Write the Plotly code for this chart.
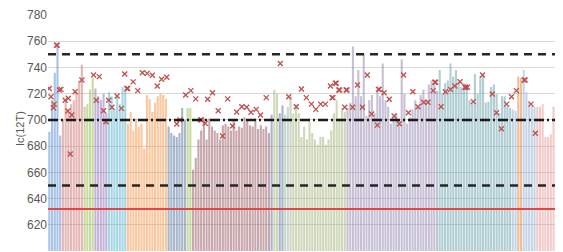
import plotly.graph_objects as go

# ---------------- data ----------------
blue1 = [691, 715, 736, 757, 688]
pink1 = [700, 715, 708, 712, 715, 721, 730, 742]
green1 = [710, 712, 723, 732]
purple1 = [724, 718, 715, 720, 705]
cyan1 = [721, 718, 708, 718, 712, 725, 722]
orange1 = [697, 706, 692, 701, 695, 697, 678, 719, 716, 706, 713, 718, 720, 719, 716]
graybl1 = [695, 690, 688, 687, 690, 709, 700]
green2 = [709, 709]
mauve1 = [662, 671, 685, 692, 701, 685, 701, 695, 692, 690,
          685, 696, 697, 695, 692, 700, 692, 695, 694, 702,
          700, 696, 695, 701, 693, 696, 693, 695, 690]
graybl2 = [704]
olive0 = [723, 720]
graybl3 = [705, 711]
olive00 = [704]
ltblue0 = [710]
olive1 = [718, 705, 712, 705, 687, 695, 685, 699, 690, 685, 681,
          687, 687, 681, 685, 692, 705, 715, 701, 709, 706]
lav1 = [709, 713, 756, 718, 738, 718, 750, 703, 715, 719,
        705, 723, 718, 743, 715, 710, 697, 702, 705, 700,
        746, 720, 697, 702, 708, 715, 710, 719, 723, 715,
        727, 730, 727, 722]
teal1 = [738, 720, 728, 730, 743, 733, 738, 729, 725, 728,
         724, 715, 714, 735, 720, 733, 734, 713, 714, 725,
         727, 720, 705, 718, 718, 711, 709]
ltblue1 = [708, 707]
orange2 = [733, 732]
ltblue2 = [738, 721, 714, 711, 710]
pink2 = [710, 710, 712, 687, 687, 689, 710, 689, 681, 688]

segments = [
    ("blue", blue1), ("pink", pink1), ("green", green1), ("purple", purple1),
    ("cyan", cyan1), ("orange", orange1), ("graybl", graybl1), ("green", green2),
    ("mauve", mauve1), ("graybl", graybl2), ("olive", olive0), ("graybl", graybl3),
    ("olive", olive00), ("ltblue", ltblue0), ("olive", olive1), ("lav", lav1),
    ("teal", teal1), ("ltblue", ltblue1), ("orange2", orange2), ("ltblue", ltblue2),
    ("pink2", pink2),
]

# measured points (sample position, Ic)
mark_pos = [0.0, 0.6, 1.5, 1.8, 2.6, 2.9, 3.7, 4.3, 5.8, 6.8, 7.0, 7.7, 8.3, 9.5, 12.0,
            16.3, 17.3, 18.4, 20.0, 20.9, 21.9, 23.1, 25.0, 26.6, 27.8, 28.6, 28.9,
            30.9, 32.6, 34.3, 36.1, 38.0, 39.8, 41.4, 43.3, 47.0, 48.2, 50.3, 52.2,
            54.0, 55.8, 56.1, 57.5, 58.4, 60.2, 62.3, 63.9, 65.8, 67.6, 69.1, 71.0,
            72.8, 74.4, 76.3, 77.9, 80.0, 85.2, 88.3, 91.1, 93.0, 94.8, 96.7, 98.3,
            100.1, 101.8, 103.7, 104.3, 104.6, 105.5, 105.8, 106.8, 107.1, 109.0,
            109.5, 109.8, 111.9, 113.7, 115.5, 117.3, 118.9, 121.0, 121.4, 121.7,
            123.5, 125.4, 127.2, 129.1, 130.7, 132.5, 134.1, 136.0, 138.1, 139.7,
            141.6, 142.2, 142.5, 144.5, 146.1, 148.0, 149.6, 151.5, 153.3, 153.6,
            154.2, 156.4, 159.8, 163.4, 165.0, 166.8, 168.7, 170.5, 172.3, 175.2,
            175.5, 177.7, 179.3]
mark_val = [724, 717.7, 709.3, 712, 757, 757, 722.8, 723.3, 715, 706.8, 716.5, 674, 703.7,
            721.5, 730.4, 734.2, 715, 733, 707, 698.6, 715, 709.6, 718.2, 708.8, 735,
            724, 724, 729, 722.3, 736, 735.5, 734, 725.8, 731, 732.5, 696.9, 700, 719,
            722.3, 716, 700, 700, 697.4, 715.7, 720.7, 707, 687.7, 716, 695.3, 706,
            710, 709.6, 705.8, 708, 703.7, 717, 743, 717.7, 710, 723.6, 717, 712, 708,
            712, 712, 725.8, 717, 717, 727.9, 727.9, 722.8, 722.8, 709.6, 722.8,
            722.8, 709.6, 726.6, 709.6, 734.2, 704.5, 696, 723.3, 723.3, 720.7, 715.7,
            703, 697, 734.2, 705.5, 721.5, 710, 713.4, 713.4, 722.3, 728.7, 728.7,
            710, 721.5, 723.3, 725.8, 729.1, 724.9, 724.9, 724.9, 713.9, 734.2, 719.7,
            705.5, 693.3, 712, 717.7, 722.3, 730.4, 730.4, 712, 689.8]

dash_levels = [750, 650]
dashdot_levels = [700]
red_levels = [632]
y_ticks = [600, 620, 640, 660, 680, 700, 720, 740, 760, 780]

# ---------------- styles ----------------
colors = {
    "blue": "rgb(83,137,205)", "pink": "rgb(205,113,111)", "green": "rgb(145,185,73)",
    "purple": "rgb(137,105,181)", "cyan": "rgb(81,177,205)", "orange": "rgb(249,145,65)",
    "graybl": "rgb(83,111,153)", "mauve": "rgb(147,83,91)", "olive": "rgb(160,178,120)",
    "lav": "rgb(145,133,175)", "teal": "rgb(100,158,168)", "ltblue": "rgb(143,175,213)",
    "orange2": "rgb(227,127,49)", "pink2": "rgb(233,153,153)",
}

xs, ys, cs = [], [], []
i = 0
for key, vals in segments:
    for v in vals:
        xs.append(i)
        ys.append(v)
        cs.append(colors[key])
        i += 1
N = i

fig = go.Figure()
fig.add_trace(go.Bar(x=xs, y=ys, marker=dict(color=cs, line=dict(width=0)),
                     opacity=0.5, showlegend=False))
fig.add_trace(go.Scatter(x=mark_pos, y=mark_val, mode="markers", showlegend=False,
                         marker=dict(symbol="x-thin-open", size=5, color="#bf4f4c",
                                     line=dict(width=1.3, color="#bf4f4c"))))

for lv in dash_levels:
    fig.add_shape(type="line", xref="paper", x0=0, x1=1, yref="y", y0=lv, y1=lv,
                  line=dict(color="#262626", width=2.5, dash="8px,6px"))
for lv in dashdot_levels:
    fig.add_shape(type="line", xref="paper", x0=0, x1=1, yref="y", y0=lv, y1=lv,
                  line=dict(color="#1a1a1a", width=2.5, dash="10px,3px,2px,3px"))
for lv in red_levels:
    fig.add_shape(type="line", xref="paper", x0=0, x1=1, yref="y", y0=lv, y1=lv,
                  line=dict(color="#e04848", width=2))

fig.add_annotation(text="Ic(12T)", xref="paper", yref="paper", x=0, y=0.517,
                   xshift=-36, textangle=-90, showarrow=False,
                   font=dict(family="Liberation Sans, Arial", size=11, color="#595959"))

# the page body adds an 8px offset; sizes compensate for it
fig.update_layout(
    width=555, height=244, template="none",
    margin=dict(l=40, r=0, t=7, b=1, autoexpand=False),
    paper_bgcolor="white", plot_bgcolor="white",
    bargap=0.22,
    font=dict(family="Liberation Sans, Arial", size=12, color="#595959"),
    xaxis=dict(range=[-0.5, N - 0.5], showticklabels=False, showgrid=False,
               zeroline=False, showline=False, ticks=""),
    yaxis=dict(range=[600, 780], tickvals=y_ticks, showgrid=True, gridcolor="#d9d9d9",
               gridwidth=1, zeroline=False, showline=False, ticks="",
               tickfont=dict(size=12, color="#595959"), automargin=False),
)

fig.write_html("out.html")
